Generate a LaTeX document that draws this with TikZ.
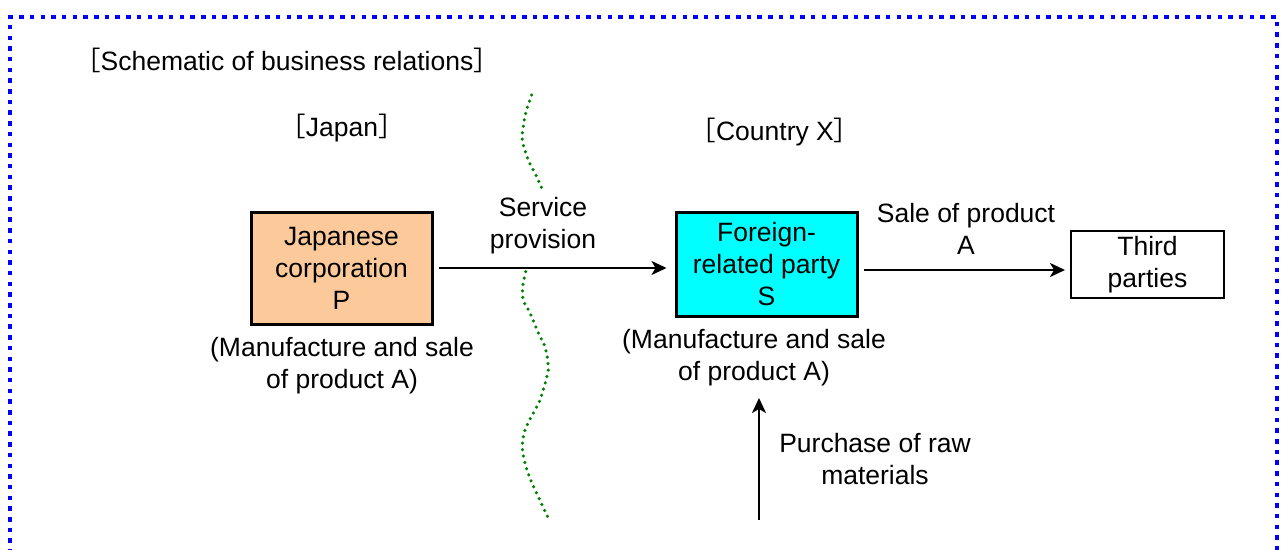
\documentclass[tikz,border=0pt]{standalone}
\usepackage{fontspec}
\setmainfont{Liberation Sans}
\newfontfamily\cjk{Noto Sans CJK JP}
\usetikzlibrary{arrows.meta}
\newcommand{\jlbr}{{\cjk ［}}
\newcommand{\jrbr}{{\cjk ］}}
\definecolor{peach}{RGB}{252,202,154}
\definecolor{aqua}{RGB}{0,255,255}
\definecolor{bordblue}{RGB}{0,0,255}
\definecolor{dotgreen}{RGB}{0,128,0}
\begin{document}
\begin{tikzpicture}[x=1pt,y=-1pt,
  every node/.style={font=\fontsize{26.5}{32}\selectfont},
  lbl/.style={align=center, inner sep=0pt},
  entity/.style={draw=black, line width=3pt, align=center, inner sep=0pt},
  arr/.style={-{Stealth[length=15pt,width=14pt,inset=4pt]}, line width=2pt},
  wave/.style={draw=dotgreen, line width=3.5pt, line cap=round, dash pattern=on 0pt off 6.5pt},
  frame/.style={draw=bordblue, line width=4.5pt, dash pattern=on 4.5pt off 6.2pt}]
\clip (0,0) rectangle (1284,549);
\draw[frame] (10,575) -- (10,17) -- (1277,17) -- (1277,575);

\node[lbl] (title) at (287,60) {\jlbr Schematic of business relations\jrbr};
\node[lbl] (japan) at (342,128) {\jlbr Japan\jrbr};
\node[lbl] (countryx) at (775,132) {\jlbr Country X\jrbr};

\node[entity, fill=peach, minimum width=181pt, minimum height=112pt] (P) at (341.5,268) {Japanese\\corporation\\P};
\node[entity, fill=aqua, minimum width=181pt, minimum height=104pt] (S) at (766.5,264) {Foreign-\\related party\\S};
\node[entity, line width=2pt, minimum width=153pt, minimum height=67pt] (T) at (1147.5,264.5) {Third\\parties};

\node[lbl] (svc) at (543,226) {Service\\provision};
\node[lbl] (sale) at (966,229) {Sale of product\\A};
\node[lbl] (pact) at (342,366) {(Manufacture and sale\\of product A)};
\node[lbl] (sact) at (754,358) {(Manufacture and sale\\of product A)};
\node[lbl] (buy) at (875,459) {Purchase of raw\\materials};

\draw[arr, shorten <=5pt, shorten >=8pt] (P.east) -- (P.east -| S.west);
\coordinate (s1) at ([yshift=-6pt]S.east);
\draw[arr, shorten <=5pt, shorten >=5pt] (s1) -- (s1 -| T.west);
\coordinate (rawfrom) at (759,520);
\coordinate (rawto) at (759,398);
\draw[arr] (rawfrom) -- (rawto);

\draw[wave] plot[smooth, tension=0.6] coordinates {(531.7,95) (525.7,113) (523.3,126.7) (522.3,140) (528.3,160) (536.7,176.7) (543.3,191.7)};
\draw[wave] plot[smooth, tension=0.6] coordinates {(525.7,271.7) (522.7,286.7) (523.3,300) (530,313) (538.3,333) (545,347) (548.3,366.7) (546,380) (540,400) (533.3,413) (525,430) (522.3,446.7) (525,463) (530.7,480) (538.3,496.7) (548.3,518.3)};
\end{tikzpicture}
\end{document}
